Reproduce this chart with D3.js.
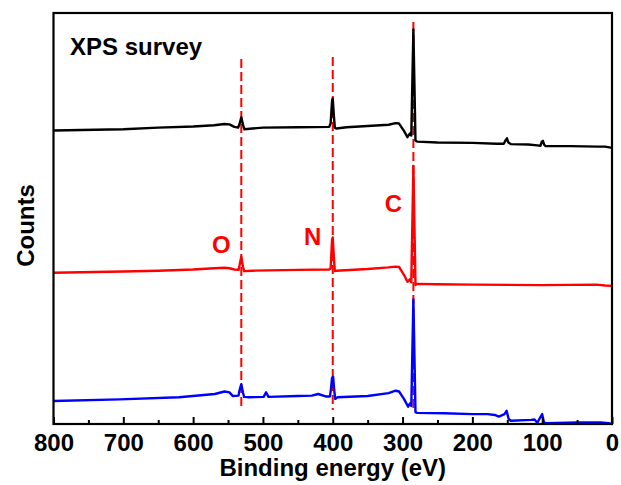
<!DOCTYPE html>
<html>
<head>
<meta charset="utf-8">
<script src="https://cdn.jsdelivr.net/npm/d3@7/dist/d3.min.js"></script>
<style>
  html, body { margin: 0; padding: 0; background: #fff; }
  svg { display: block; }
  text { font-family: "Liberation Sans", Arial, Helvetica, sans-serif; font-weight: bold; }
</style>
</head>
<body>
<svg id="chart" width="621" height="485"></svg>
<script>
// Binding-energy ticks (eV), major and minor
const majorTicks = [800, 700, 600, 500, 400, 300, 200, 100, 0];
const minorTicks = [750, 650, 550, 450, 350, 250, 150, 50];

// Core-level positions marked with dashed guides (eV)
const peakNames = ["O", "N", "C"];
const peakEnergies = [531, 400, 284.5];

// Survey spectra, [binding energy (eV), counts (a.u., stacked)]
const spectrumTop = [
  [800,71.4],[700,71.7],[650,72.1],[600,72.4],[570,72.7],[555,73.0],[548,72.9],[541,72.3],
  [535.5,72.1],[533.5,73.0],[531,74.6],[528.5,72.8],[526.5,71.7],[515,71.9],[500,72.1],[450,72.2],
  [405,72.3],[403,73.2],[401,78.6],[400,79.2],[398.5,75.2],[397,72.1],[395,71.9],[380,72.2],
  [350,72.5],[320,72.8],[310,73.2],[305,73.1],[298,71.3],[293,69.8],[289.5,70.7],
  [287.5,70.2],[284.5,96.0],[281.5,69.0],[279,68.7],[250,68.5],[200,68.4],[165,68.2],
  [155,68.2],[152.5,69.0],[150.5,69.5],[148.5,68.5],[145,68.1],[120,68.0],[107,67.8],
  [102.5,67.7],[100.5,68.7],[99,68.9],[97,67.9],[95,67.6],[60,67.6],[20,67.5],[10,67.5],[0,67.2]
];
const spectrumMiddle = [
  [800,36.8],[700,37.1],[650,37.3],[600,37.6],[570,37.9],[555,38.0],[548,37.9],[541,37.6],
  [535,37.5],[533.5,38.6],[531,40.7],[528.5,38.2],[527,37.2],[515,37.3],[450,37.5],[405,37.6],
  [403,37.9],[401,44.8],[400,45.4],[398.5,40.8],[397,37.2],[395,37.3],[350,37.7],[320,38.1],[310,38.3],
  [305,38.2],[298,36.3],[293,34.6],[289.5,35.2],[287.5,34.5],[284.5,62.8],[281.5,33.8],
  [279,34.1],[250,34.0],[200,33.9],[100,33.8],[22,33.9],[10,33.7],[0,33.6]
];
const spectrumBottom = [
  [800,5.6],[705,6.0],[620,6.5],[569,7.3],[555,7.9],[548,7.7],[543,6.8],[535,6.9],[533.5,8.2],
  [531,9.7],[528.5,7.6],[527,6.6],[520,6.5],[499,6.6],[495.5,7.7],[492,6.6],[450,6.8],[430,6.9],
  [421,7.3],[410,6.7],[404,6.7],[402.5,8.6],[401,11.2],[399.5,11.5],[398,8.4],[396.5,6.1],[393,6.5],
  [350,6.8],[320,7.5],[310,8.1],[305,7.9],[298,6.1],[292,4.2],[289.5,5.0],[287.5,4.4],
  [284.5,30.3],[281.5,2.9],[279,2.7],[240,2.6],[200,2.4],[178,2.4],[168,2.2],[162,1.8],
  [154,2.4],[151,3.2],[148,1.2],[145,0.8],[116,1.0],[111,1.1],[107,0.3],[102.5,1.7],[100,2.4],
  [97.5,0.4],[95,0.2],[50,0.4],[16,0.4],[5,0.2],[0,0.0]
];

const svg = d3.select("#chart");
const plot = { left: 53.5, right: 612, top: 13, bottom: 424 };

const x = d3.scaleLinear().domain([800, 0]).range([plot.left, plot.right]);
const y = d3.scaleLinear().domain([0, 100]).range([plot.bottom, plot.top]);

const red = "#ff0000";

// dashed guides at the core levels (drawn beneath the spectra)
const guideSpans = [[3.4, 88.8], [3.4, 89.3], [2.9, 97.8]];
svg.append("g").selectAll("line")
  .data(peakEnergies)
  .join("line")
  .attr("x1", d => x(d)).attr("x2", d => x(d))
  .attr("y1", (d, i) => y(guideSpans[i][1]))
  .attr("y2", (d, i) => y(guideSpans[i][0]))
  .attr("stroke", red)
  .attr("stroke-width", 2)
  .attr("stroke-dasharray", "9,4");

// spectra
const line = d3.line().x(d => x(d[0])).y(d => y(d[1]));
const series = [
  { data: spectrumTop, color: "#000000" },
  { data: spectrumMiddle, color: red },
  { data: spectrumBottom, color: "#0000ff" }
];
svg.append("g").selectAll("path")
  .data(series)
  .join("path")
  .attr("d", d => line(d.data))
  .attr("fill", "none")
  .attr("stroke", d => d.color)
  .attr("stroke-width", 2.4)
  .attr("stroke-linejoin", "round");

// element labels, set just left of each guide
const labelLevels = [43.6, 45.6, 53.7];
svg.append("g").selectAll("text")
  .data(peakNames)
  .join("text")
  .attr("x", (d, i) => x(peakEnergies[i]) - 20)
  .attr("y", (d, i) => y(labelLevels[i]))
  .attr("dy", "0.36em")
  .attr("text-anchor", "middle")
  .attr("fill", red)
  .style("font-size", "24px")
  .text(d => d);

// bottom axis with inward ticks
const axisG = svg.append("g").attr("transform", `translate(0,${plot.bottom})`);
axisG.call(d3.axisBottom(x).tickValues(majorTicks).tickSizeInner(-7).tickSizeOuter(0)
  .tickPadding(10).tickFormat(d3.format("d")));
axisG.select(".domain").remove();
axisG.selectAll(".tick line").attr("stroke", "#000").attr("stroke-width", 2);
axisG.selectAll(".tick text")
  .attr("fill", "#000")
  .style("font-size", "24px")
  .style("font-family", "'Liberation Sans', Arial, sans-serif")
  .style("font-weight", "bold");

const minorG = svg.append("g").attr("transform", `translate(0,${plot.bottom})`);
minorG.call(d3.axisBottom(x).tickValues(minorTicks).tickSizeInner(-4).tickSizeOuter(0).tickFormat(""));
minorG.select(".domain").remove();
minorG.selectAll(".tick line").attr("stroke", "#000").attr("stroke-width", 2);

// frame
svg.append("rect")
  .attr("x", plot.left).attr("y", plot.top)
  .attr("width", plot.right - plot.left).attr("height", plot.bottom - plot.top)
  .attr("fill", "none").attr("stroke", "#000").attr("stroke-width", 2.2);

// titles
svg.append("text")
  .attr("x", 70).attr("y", 55)
  .style("font-size", "24px")
  .text("XPS survey");

svg.append("text")
  .attr("x", (plot.left + plot.right) / 2).attr("y", 476)
  .attr("text-anchor", "middle")
  .style("font-size", "24px")
  .text("Binding energy (eV)");

svg.append("text")
  .attr("transform", `translate(34,${(plot.top + plot.bottom) / 2 + 7}) rotate(-90)`)
  .attr("text-anchor", "middle")
  .style("font-size", "24px")
  .text("Counts");
</script>
</body>
</html>
